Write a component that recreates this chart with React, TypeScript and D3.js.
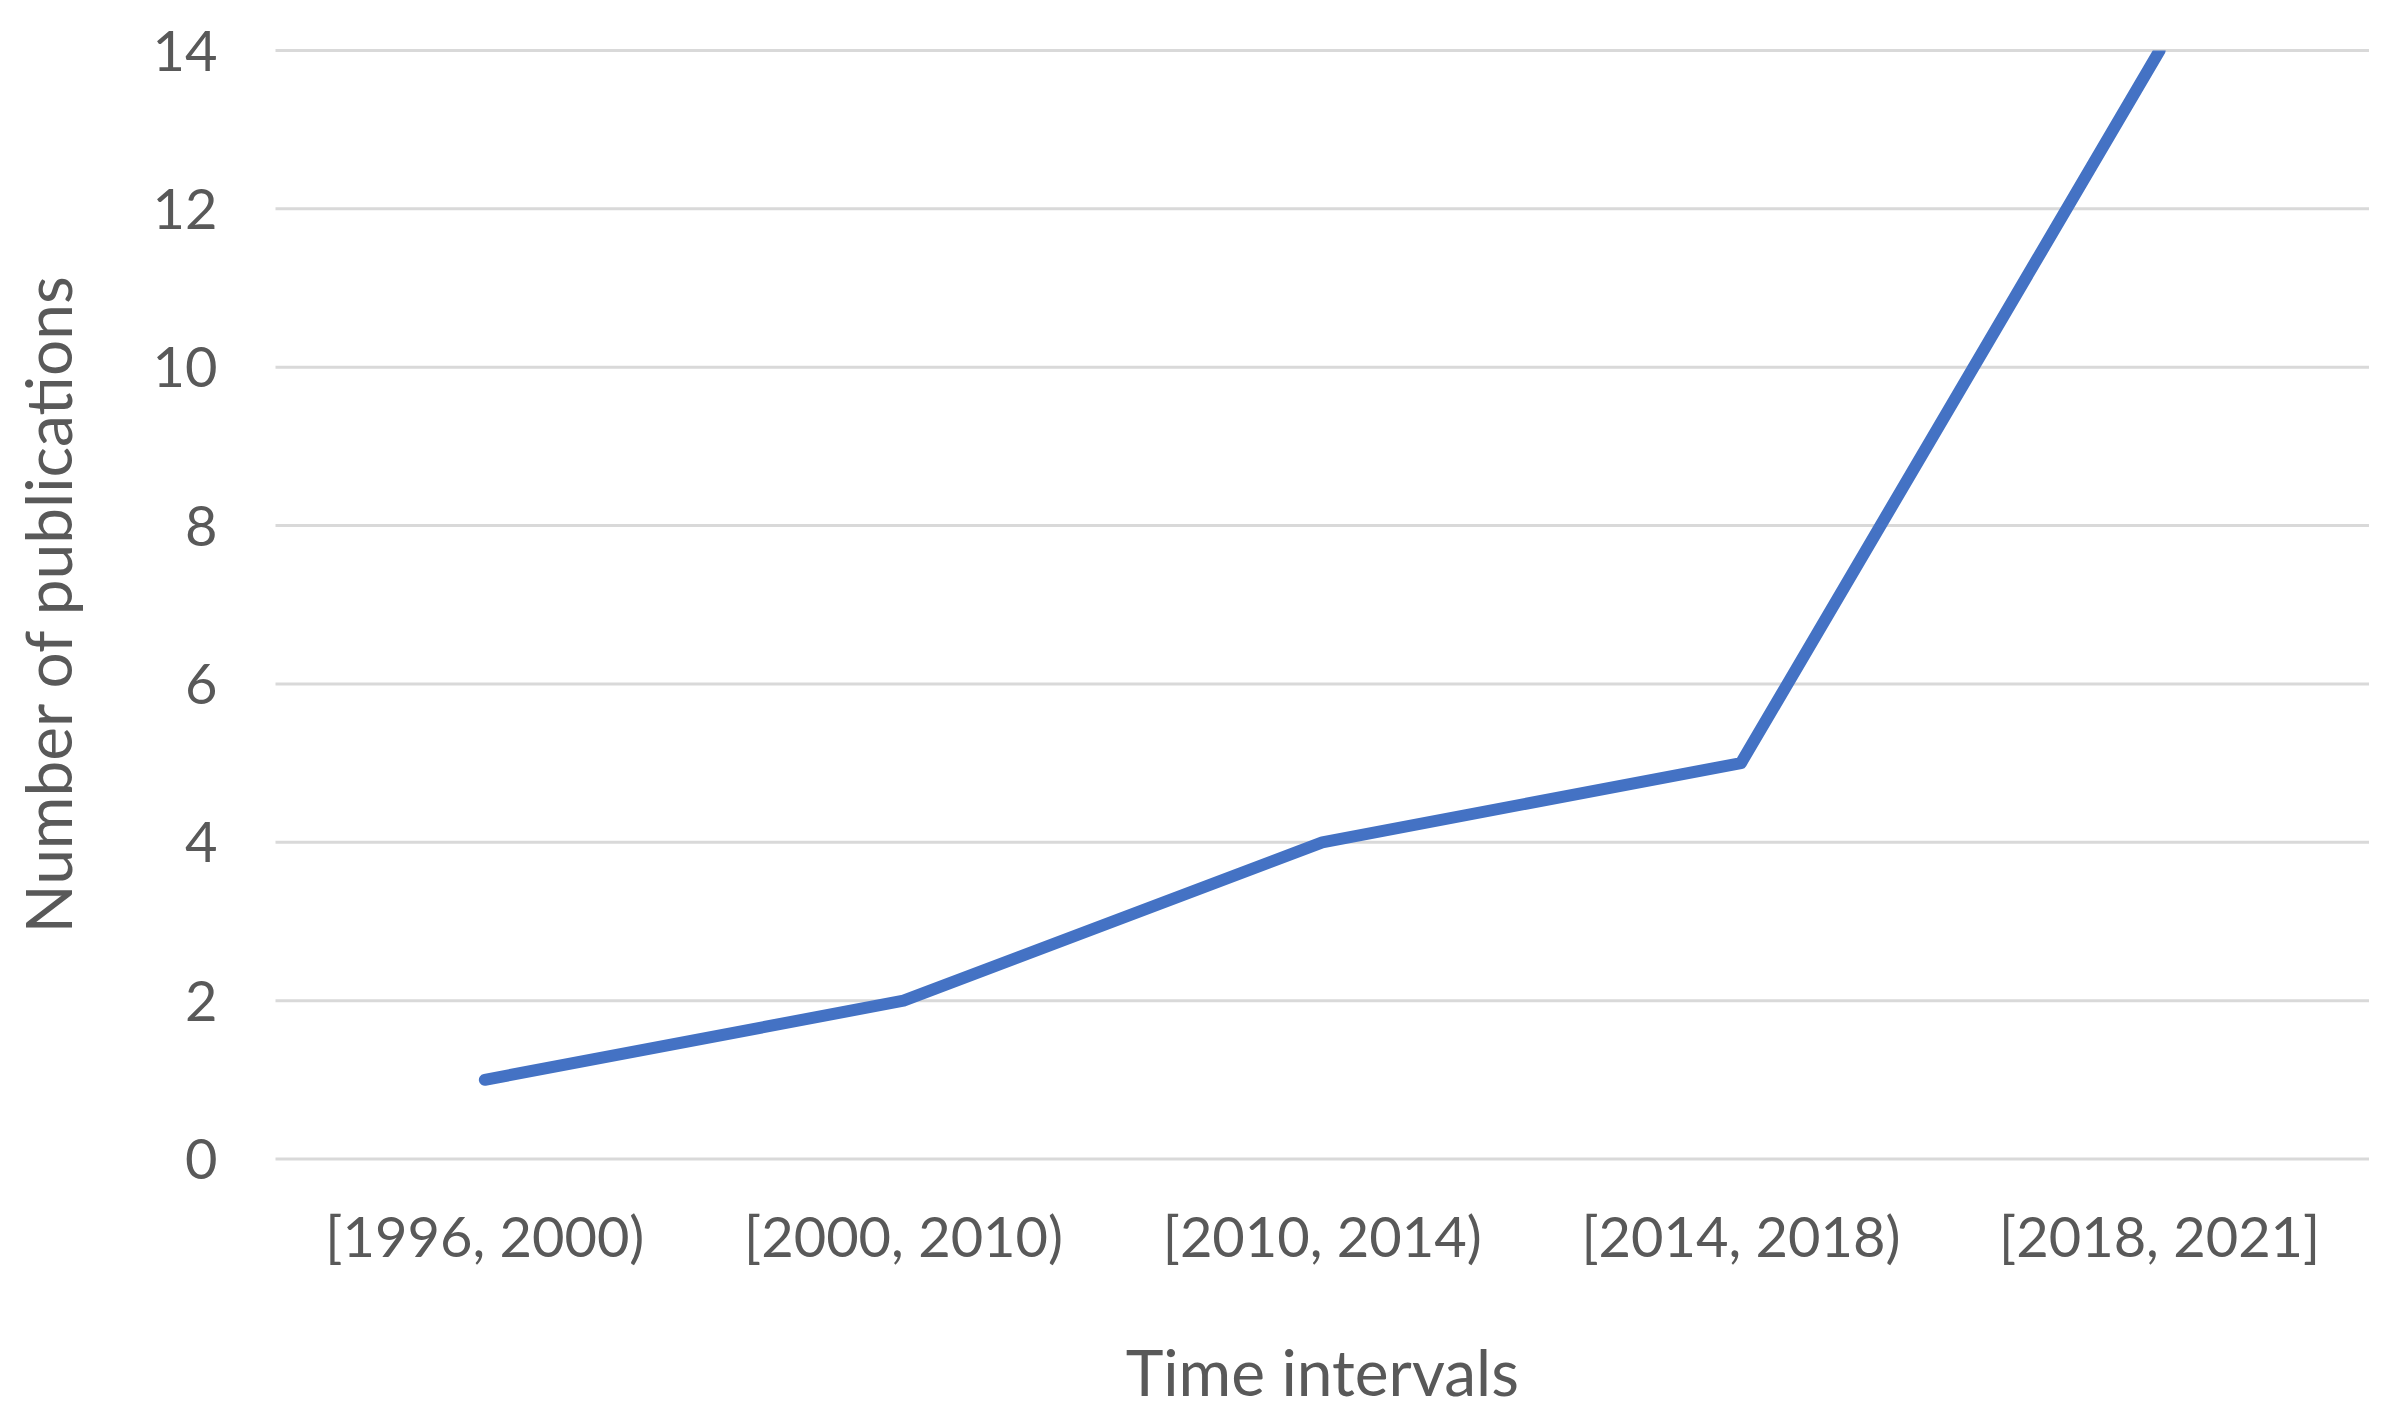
import * as d3 from "d3";
import React, { useEffect, useRef } from "react";

// data
const intervals = ["[1996, 2000)", "[2000, 2010)", "[2010, 2014)", "[2014, 2018)", "[2018, 2021]"];
const publications = [1, 2, 4, 5, 14];
const yTicks = [0, 2, 4, 6, 8, 10, 12, 14];

const WIDTH = 2400;
const HEIGHT = 1423;

const App = () => {
    const chartRef = useRef<SVGSVGElement | null>(null);

    useEffect(() => {
        document.body.style.margin = "0";
        if (!chartRef.current) return;

        const svg = d3.select(chartRef.current);
        svg.selectAll("*").remove();

        const margin = { top: 50.5, right: 31, bottom: 264, left: 275.5 };
        const innerW = WIDTH - margin.left - margin.right;
        const innerH = HEIGHT - margin.top - margin.bottom;

        const x = d3.scaleBand<string>()
            .domain(intervals)
            .range([0, innerW]);

        const y = d3.scaleLinear()
            .domain([0, 14])
            .range([innerH, 0]);

        const font = "Lato, 'Open Sans', sans-serif";
        const textColor = "#595959";

        svg.append("defs")
            .append("clipPath")
            .attr("id", "plot-clip")
            .append("rect")
            .attr("x", -20)
            .attr("y", 0)
            .attr("width", innerW + 40)
            .attr("height", innerH + 40);

        const g = svg.append("g")
            .attr("transform", `translate(${margin.left},${margin.top})`);

        // gridlines
        g.selectAll(".grid")
            .data(yTicks)
            .enter()
            .append("line")
            .attr("class", "grid")
            .attr("x1", 0)
            .attr("x2", innerW)
            .attr("y1", d => y(d))
            .attr("y2", d => y(d))
            .style("stroke", "#D9D9D9")
            .style("stroke-width", 3);

        // y tick labels
        g.selectAll(".ytick")
            .data(yTicks)
            .enter()
            .append("text")
            .attr("class", "ytick")
            .attr("x", -58)
            .attr("y", d => y(d))
            .attr("dy", "0.36em")
            .attr("text-anchor", "end")
            .style("font-family", font)
            .style("font-size", "56px")
            .style("fill", textColor)
            .text(d => d);

        // x tick labels
        g.selectAll(".xtick")
            .data(intervals)
            .enter()
            .append("text")
            .attr("class", "xtick")
            .attr("x", d => (x(d) ?? 0) + x.bandwidth() / 2)
            .attr("y", innerH + 78)
            .attr("dy", "0.36em")
            .attr("text-anchor", "middle")
            .style("font-family", font)
            .style("font-size", "56px")
            .style("fill", textColor)
            .text(d => d);

        // series line, clipped at the top of the plot like the original
        const line = d3.line<number>()
            .x((d, i) => (x(intervals[i]) ?? 0) + x.bandwidth() / 2)
            .y(d => y(d));

        g.append("path")
            .datum(publications)
            .attr("d", line)
            .attr("clip-path", "url(#plot-clip)")
            .style("fill", "none")
            .style("stroke", "#4472C4")
            .style("stroke-width", 12)
            .style("stroke-linejoin", "round")
            .style("stroke-linecap", "round");

        // axis titles
        svg.append("text")
            .attr("x", margin.left + innerW / 2)
            .attr("y", 1373)
            .attr("dy", "0.36em")
            .attr("text-anchor", "middle")
            .style("font-family", font)
            .style("font-size", "64px")
            .style("fill", textColor)
            .text("Time intervals");

        svg.append("text")
            .attr("transform", `translate(49,${margin.top + innerH / 2}) rotate(-90)`)
            .attr("dy", "0.36em")
            .attr("text-anchor", "middle")
            .style("font-family", font)
            .style("font-size", "64px")
            .style("fill", textColor)
            .text("Number of publications");
    }, []);

    return (
        <svg
            ref={chartRef}
            width={WIDTH}
            height={HEIGHT}
            style={{ display: "block", background: "#fff" }}
        />
    );
};

export default App;
